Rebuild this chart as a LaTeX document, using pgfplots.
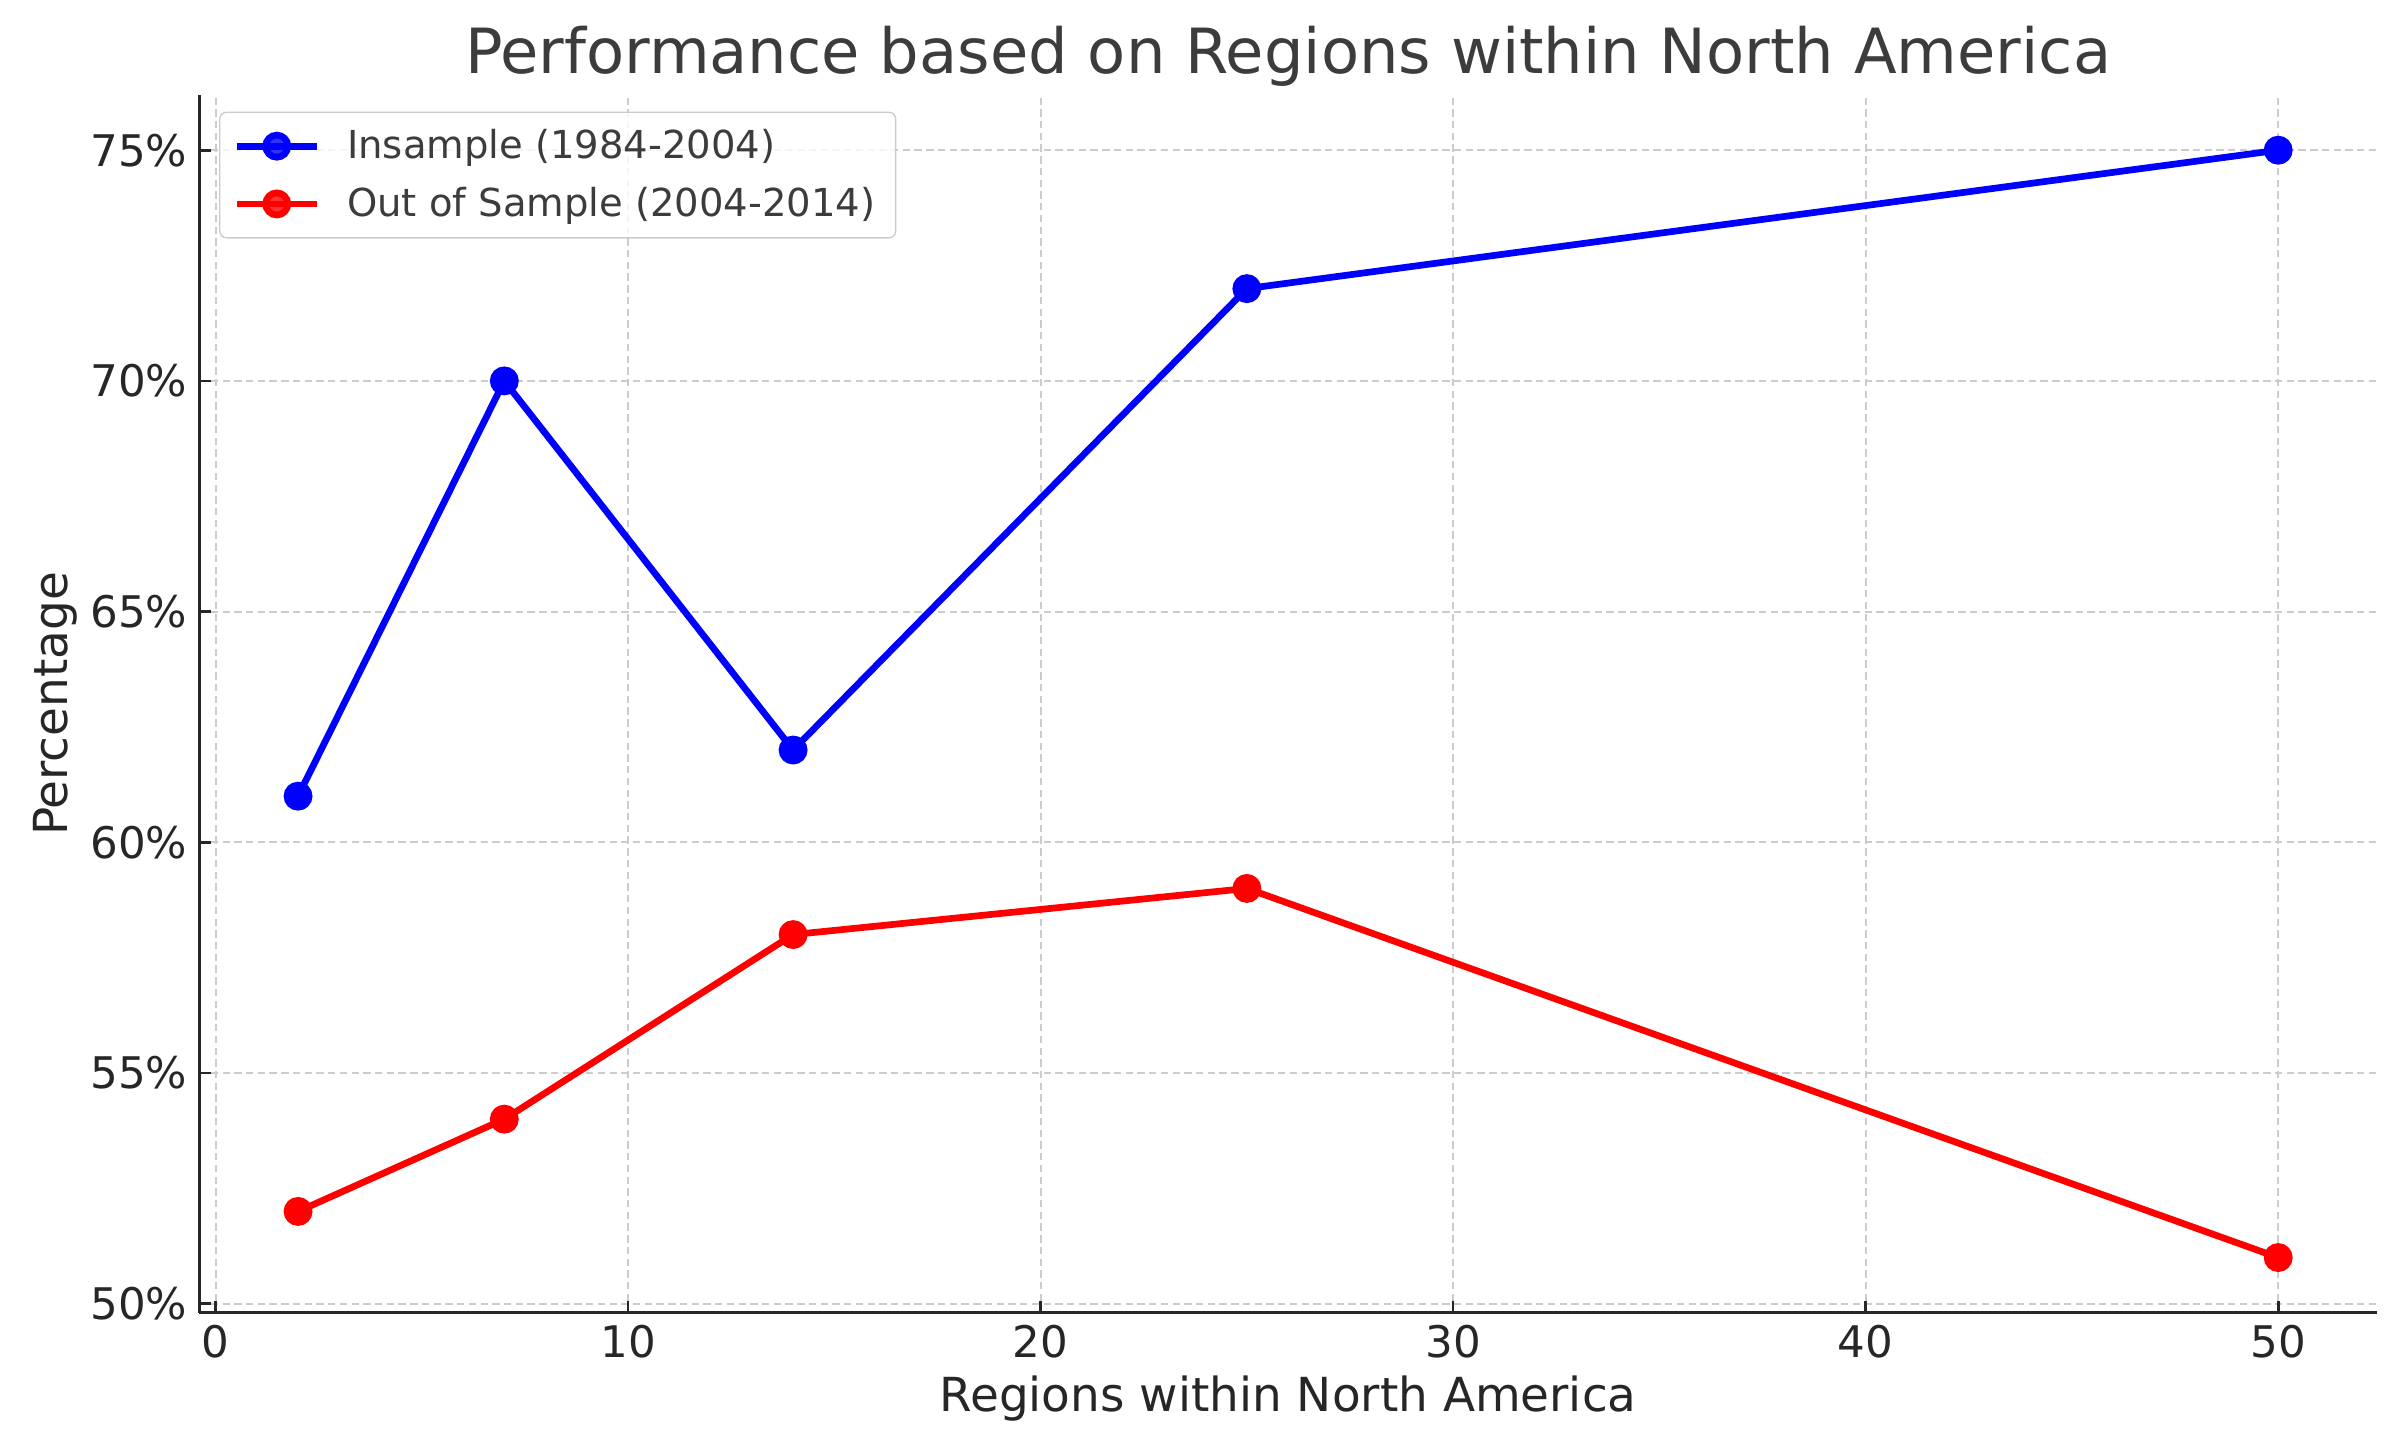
\documentclass[border=0pt]{standalone}
\usepackage{fontspec}
\setmainfont{DejaVu Sans}
\usepackage{pgfplots}
\pgfplotsset{compat=1.18}
\definecolor{txt}{HTML}{262626}
\definecolor{gridc}{HTML}{CCCCCC}

\begin{document}
\begin{tikzpicture}
\begin{axis}[
    scale only axis, width=650pt, height=363.5pt,
    xmin=-0.4, xmax=52.4, ymin=49.8, ymax=76.2,
    axis x line*=bottom, axis y line*=left,
    axis line style={txt, line width=0.9pt},
    xtick={0,10,20,30,40,50}, ytick={50,55,60,65,70,75},
    yticklabel={\pgfmathprintnumber{\tick}\%},
    /pgf/number format/assume math mode=true,
    tick style={txt, line width=0.8pt}, tick align=inside,
    major tick length=3.5pt,
    ticklabel style={font=\fontsize{13}{15}\selectfont, text=txt},
    grid=major, major grid style={gridc, dash pattern=on 2.2pt off 1.3pt, line width=0.6pt},
    title={Performance based on Regions within North America},
    every axis title shift=0pt,
    title style={at={(0.5,1)}, anchor=base, yshift=6.5pt,
        font=\fontsize{18.6}{22}\selectfont, text=txt!90},
    xlabel={Regions within North America}, ylabel={Percentage},
    xlabel shift=-1.5pt, ylabel shift=-3pt,
    label style={font=\fontsize{14}{16}\selectfont, text=txt},
    legend style={at={(0,1)}, anchor=north west, xshift=6pt, yshift=-5pt,
        draw=gridc, rounded corners=2pt, fill=white, fill opacity=0.8, text opacity=1,
        font=\fontsize{11.5}{14}\selectfont, text=txt!90, row sep=3pt,
        inner xsep=4pt, inner ysep=3pt},
    legend cell align=left,
    legend image code/.code={
        \draw[mark repeat=2, mark phase=2] plot coordinates {(0pt,0pt) (12pt,0pt) (24pt,0pt)};
        \path (30pt,0pt);
    },
    every axis plot/.append style={line width=2pt, mark=*, mark size=3.3pt},
]
\addplot[color=blue, mark options={fill=blue}] coordinates {
    (2,61) (7,70) (14,62) (25,72) (50,75)
};
\addlegendentry{Insample (1984-2004)}
\addplot[color=red, mark options={fill=red}] coordinates {
    (2,52) (7,54) (14,58) (25,59) (50,51)
};
\addlegendentry{Out of Sample (2004-2014)}
\coordinate (bl) at (rel axis cs:0,0);
\coordinate (tr) at (rel axis cs:1,1);
\end{axis}
% page margins as in the reference
\pgfresetboundingbox
\path ([shift={(-59.4pt,-39.7pt)}]bl) rectangle ([shift={(6.8pt,28.3pt)}]tr);
\end{tikzpicture}
\end{document}
